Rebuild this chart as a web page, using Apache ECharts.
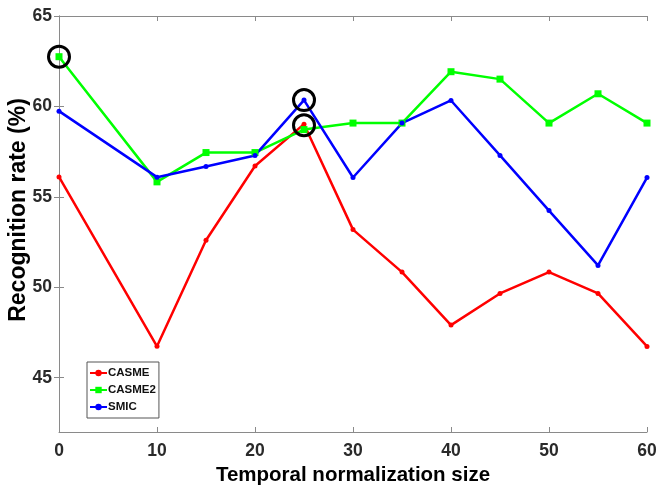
<!DOCTYPE html>
<html>
<head>
<meta charset="utf-8">
<script src="https://cdn.jsdelivr.net/npm/echarts@6/dist/echarts.min.js"></script>
<style>
  html, body { margin: 0; padding: 0; background: #fff; }
  #chart { width: 657px; height: 486px; }
</style>
</head>
<body>
<div id="chart"></div>
<script>
// temporal normalization sizes
const sizes = [0, 10, 15, 20, 25, 30, 35, 40, 45, 50, 55, 60]
const casme = [56.1, 46.74, 52.6, 56.71, 59.02, 53.19, 50.84, 47.91, 49.66, 50.84, 49.66, 46.73]
const casme2 = [62.75, 55.83, 57.45, 57.45, 58.72, 59.08, 59.08, 61.92, 61.51, 59.08, 60.7, 59.08]
const smic = [59.74, 56.09, 56.68, 57.29, 60.35, 56.07, 59.08, 60.33, 57.29, 54.24, 51.21, 56.07]
// highlighted best points (circled)
const bestPoints = [[0, 62.75], [25, 60.35], [25, 58.96]]
const yTicks = [45, 50, 55, 60, 65]

const chart = echarts.init(document.getElementById('chart'))

const axisColor = '#8a8a8a'
const labelStyle = { color: '#2a2a2a', fontSize: 17.5, fontWeight: 'bold', fontFamily: 'Liberation Sans, Arial' }

const pairs = (vals) => sizes.map((x, i) => [x, vals[i]])

const option = {
  animation: false,
  grid: { left: 59, right: 10, top: 16, bottom: 54, outerBoundsMode: 'none', containLabel: false },
  legend: {
    data: ['CASME', 'CASME2', 'SMIC'],
    orient: 'vertical',
    left: 87,
    top: 362,
    itemWidth: 17,
    itemHeight: 8,
    itemGap: 5,
    padding: [5, 3, 5, 2],
    borderColor: '#555',
    borderWidth: 1,
    textStyle: { color: '#111', fontSize: 11.5, fontWeight: 'bold', fontFamily: 'Liberation Sans, Arial', padding: [0, 0, 0, -4] }
  },
  xAxis: [
    {
      type: 'value', min: 0, max: 60, interval: 10,
      name: 'Temporal normalization size',
      nameLocation: 'middle', nameGap: 33, nameMoveOverlap: false,
      nameTextStyle: { color: '#000', fontSize: 20.5, fontWeight: 'bold', fontFamily: 'Liberation Sans, Arial' },
      axisLine: { lineStyle: { color: axisColor, width: 1 } },
      axisTick: { inside: true, length: 5, lineStyle: { color: axisColor } },
      axisLabel: Object.assign({ margin: 10 }, labelStyle),
      splitLine: { show: false }
    },
    {
      type: 'value', min: 0, max: 60, interval: 10, position: 'top',
      axisLine: { show: true, lineStyle: { color: axisColor, width: 1 } },
      axisTick: { show: true, inside: true, length: 5, lineStyle: { color: axisColor } },
      axisLabel: { show: false },
      splitLine: { show: false }
    }
  ],
  yAxis: [
    {
      type: 'value', min: 42, max: 65,
      name: 'Recognition rate (%)',
      nameLocation: 'middle', nameGap: 29, nameMoveOverlap: false,
      nameTextStyle: { color: '#000', fontSize: 23, fontWeight: 'bold', fontFamily: 'Liberation Sans, Arial', padding: [0, 0, 0, 28] },
      axisLine: { show: true, lineStyle: { color: axisColor, width: 1 } },
      axisTick: { show: true, inside: true, length: 5, customValues: yTicks, lineStyle: { color: axisColor } },
      axisLabel: Object.assign({ margin: 7, customValues: yTicks }, labelStyle),
      splitLine: { show: false }
    },
    {
      type: 'value', min: 42, max: 65, position: 'right',
      axisLine: { show: true, lineStyle: { color: axisColor, width: 1 } },
      axisTick: { show: true, inside: true, length: 5, customValues: yTicks, lineStyle: { color: axisColor } },
      axisLabel: { show: false },
      splitLine: { show: false }
    }
  ],
  series: [
    {
      name: 'CASME', type: 'line', data: pairs(casme),
      symbol: 'circle', symbolSize: 5,
      lineStyle: { color: '#ff0000', width: 2.5 },
      itemStyle: { color: '#ff0000' }
    },
    {
      name: 'CASME2', type: 'line', data: pairs(casme2),
      symbol: 'rect', symbolSize: 7,
      lineStyle: { color: '#00ff00', width: 2.5 },
      itemStyle: { color: '#00ff00' }
    },
    {
      name: 'SMIC', type: 'line', data: pairs(smic),
      symbol: 'circle', symbolSize: 5,
      lineStyle: { color: '#0000ff', width: 2.5 },
      itemStyle: { color: '#0000ff' }
    },
    {
      name: 'best', type: 'scatter', data: bestPoints,
      symbol: 'circle', symbolSize: 21, z: 5,
      itemStyle: { color: 'rgba(0,0,0,0)', borderColor: '#000', borderWidth: 3, opacity: 1 }
    }
  ]
}

chart.setOption(option)
</script>
</body>
</html>
